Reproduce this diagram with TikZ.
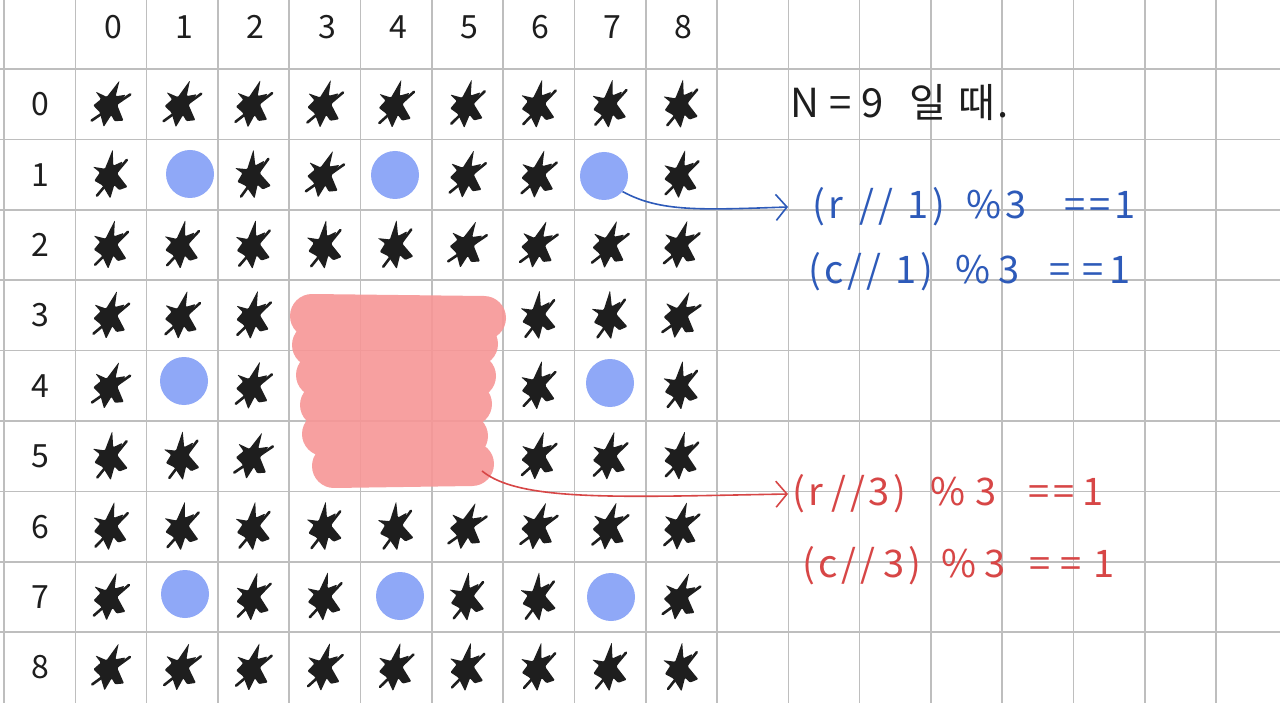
\documentclass[tikz,border=0pt]{standalone}
\usepackage{fontspec}
\setmainfont{Noto Sans CJK KR}
\newfontfamily\penfont[LetterSpace=10]{Noto Sans CJK KR}
\usetikzlibrary{arrows.meta}
\definecolor{gridc}{RGB}{190,190,190}
\definecolor{inkc}{RGB}{30,30,30}
\definecolor{dotc}{RGB}{143,168,247}
\definecolor{blobc}{RGB}{247,150,150}
\definecolor{bluepen}{RGB}{45,90,185}
\definecolor{redpen}{RGB}{215,70,70}
\tikzset{
  gridline/.style={draw=gridc, line width=1.6},
  dot/.style={circle, fill=dotc, minimum size=48, inner sep=0pt},
  lbl/.style={font=\fontsize{32}{32}\selectfont, text=inkc, inner sep=0pt},
  bluetext/.style={anchor=west, font=\penfont\fontsize{38}{38}\selectfont, text=bluepen, inner sep=2pt},
  redtext/.style={anchor=west, font=\penfont\fontsize{38}{38}\selectfont, text=redpen, inner sep=2pt},
  starmark/.pic={
    \begin{scope}[scale=1.08]
    \fill[inkc, rounded corners=1pt] (4,-23) -- (3,-8) -- (12,-11) -- (6,0) -- (14,13) -- (6,15) -- (2,10) -- (-3,22) -- (-9,9) -- (-16,4) -- (-10,-3) -- (-16,-9) -- (-5,-6) -- cycle;
    \draw[inkc, line width=2.6, line cap=round] (-15,18) -- (16,-12);
    \end{scope}
  },
  bluearrow/.style={draw=bluepen, line width=1.6, -{Straight Barb[length=11, width=26, line width=1.6]}},
  redarrow/.style={draw=redpen, line width=1.6, -{Straight Barb[length=11, width=26, line width=1.6]}}
}
\begin{document}
\begin{tikzpicture}[x=1pt,y=-1pt]
\useasboundingbox (0,0) rectangle (1280,703);
\fill[white] (0,0) rectangle (1280,703);
% grid
\foreach \k in {0,...,17} \draw[gridline] ({4+71.3*\k},0) -- ({4+71.3*\k},703);
\foreach \k in {1,...,9} \draw[gridline] (0,{-1.4+70.4*\k}) -- (1280,{-1.4+70.4*\k});
% column labels
\foreach \c in {0,...,8} \node[lbl] (col\c) at ({113+71.3*\c},27) {\c};
% row labels
\foreach \r in {0,...,8} \node[lbl] (row\r) at (40,{104.2+70.4*\r}) {\r};
% marks
\foreach \r in {0,...,8} {
  \foreach \c in {0,...,8} {
    \pgfmathtruncatemacro\skipit{ ((mod(\r,3)==1) && (mod(\c,3)==1)) || ((\r>2) && (\r<6) && (\c>2) && (\c<6)) }
    \pgfmathsetmacro\ang{mod(\r*37+\c*23,21)-10}
    \ifnum\skipit=0
      \pic[rotate=\ang] at ({111+71.3*\c},{104.2+70.4*\r}) {starmark};
    \fi
  }
}
% blue dots
\node[dot] (d11) at (190,174) {};
\node[dot] (d14) at (395,175) {};
\node[dot] (d17) at (604,176) {};
\node[dot] (d41) at (184,381) {};
\node[dot] (d47) at (610,383) {};
\node[dot] (d71) at (185,594) {};
\node[dot] (d74) at (400,596) {};
\node[dot] (d77) at (611,597) {};
% red blob
\begin{scope}[transparency group, opacity=0.9]
\begin{scope}[draw=blobc, line width=44, line cap=round]
  \draw (312,316) -- (484,318);
  \draw (314,345) -- (476,344);
  \draw (318,375) -- (474,376);
  \draw (322,405) -- (470,404);
  \draw (324,434) -- (466,436);
  \draw (334,466) -- (472,464);
\end{scope}
\end{scope}
\coordinate (blobend) at (482,471);
% texts
\node[anchor=west, font=\penfont\fontsize{40}{40}\selectfont, text=inkc, inner sep=0pt] (title) at (790,103) {N\hspace{10pt}=\hspace{10pt}9\hspace{26pt}일\hspace{12pt}때\hspace{2pt}.};
\node[bluetext] (b1) at (810,207) {(r\hspace{16pt}//\hspace{14pt}1)\hspace{22pt}\%3\hspace{38pt}==1};
\node[bluetext] (b2) at (806,272) {(c//\hspace{14pt}1)\hspace{22pt}\%\hspace{8pt}3\hspace{30pt}=\hspace{12pt}=\hspace{6pt}1};
\node[redtext] (r1) at (790,494) {(r\hspace{8pt}//3)\hspace{24pt}\%\hspace{10pt}3\hspace{32pt}==\hspace{8pt}1};
\node[redtext] (r2) at (800,566) {(c//\hspace{8pt}3)\hspace{20pt}\%\hspace{8pt}3\hspace{24pt}=\hspace{10pt}=\hspace{12pt}1};
% arrows
\draw[bluearrow] (d17.-40) .. controls (660,212) and (700,210) .. ([xshift=-22]b1.west);
\draw[redarrow] (blobend) .. controls (520,502) and (620,497) .. ([xshift=-2]r1.west);
\end{tikzpicture}
\end{document}
